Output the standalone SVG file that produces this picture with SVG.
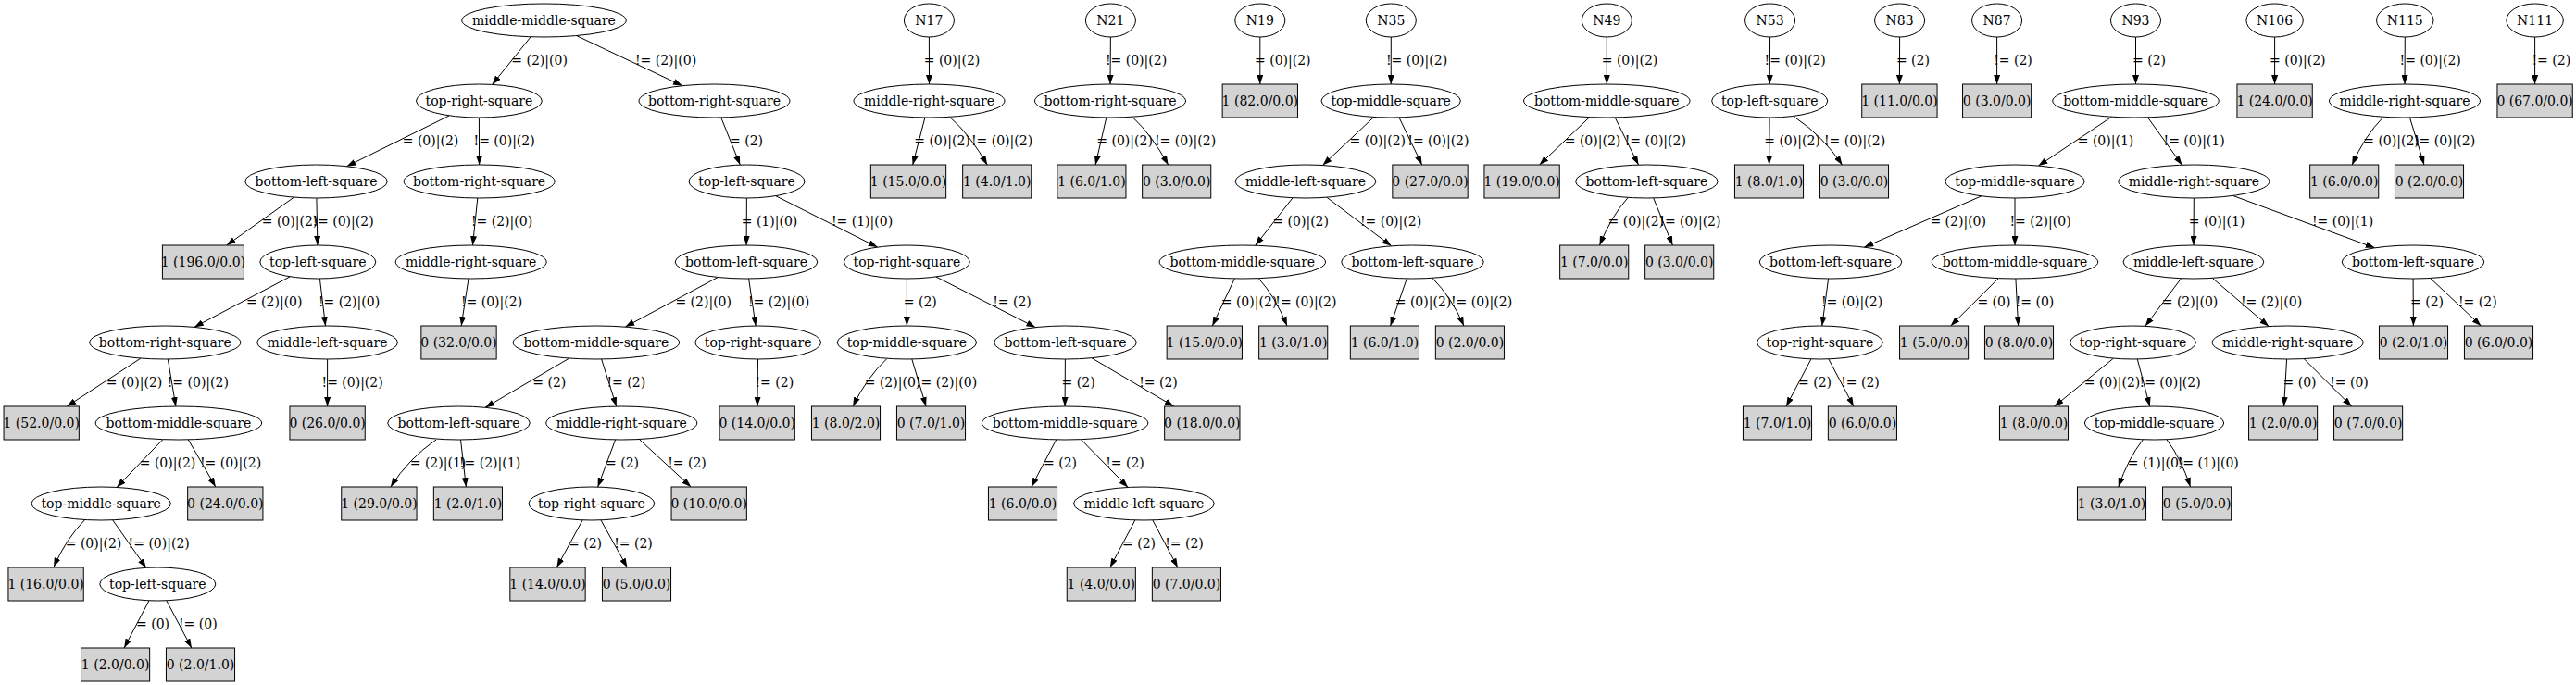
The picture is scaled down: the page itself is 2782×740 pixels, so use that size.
<svg xmlns="http://www.w3.org/2000/svg" width="2782" height="740" viewBox="0 0 2782 740">
<style>
text{font-family:"DejaVu Serif","Liberation Serif",serif;font-size:14px;text-anchor:middle;fill:#000}
.n ellipse{fill:#fff;stroke:#000;stroke-width:1}
.n rect{fill:#d3d3d3;stroke:#000;stroke-width:1}
.e path{fill:none;stroke:#000;stroke-width:1;marker-end:url(#arr)}
</style>
<defs>
<marker id="arr" markerUnits="userSpaceOnUse" markerWidth="10" markerHeight="7" refX="10" refY="3.5" orient="auto">
<path d="M0,0 L10,3.5 L0,7 Z" fill="#000"/>
</marker>
</defs>
<rect x="0" y="0" width="2782" height="740" fill="#fff"/>
<g id="edges" class="e">
<path d="M573.2,39.8 L531.6,91.4"/><text x="582.6" y="70">= (2)|(0)</text>
<path d="M622.5,38.5 L737,92.7"/><text x="719" y="70">!= (2)|(0)</text>
<path d="M485.3,124.9 L374.4,179.7"/><text x="465" y="157">= (0)|(2)</text>
<path d="M517.4,127 L517.6,178"/><text x="544.6" y="157">!= (0)|(2)</text>
<path d="M317.5,213.1 L244.7,265"/><text x="313" y="244">= (0)|(2)</text>
<path d="M341.9,214 L342.9,265"/><text x="370.5" y="244">!= (0)|(2)</text>
<path d="M515.8,214 L510.5,265"/><text x="542" y="244">!= (2)|(0)</text>
<path d="M313.3,298.8 L209.8,353.4"/><text x="296.2" y="331">= (2)|(0)</text>
<path d="M345.4,301 L351.5,352"/><text x="377" y="331">!= (2)|(0)</text>
<path d="M506,301 L498.2,352"/><text x="531" y="331">!= (0)|(2)</text>
<path d="M152.1,387 L72.3,439"/><text x="145" y="418">= (0)|(2)</text>
<path d="M181.3,388 L189.9,439"/><text x="213.8" y="418">!= (0)|(2)</text>
<path d="M353.6,388 L353.6,439"/><text x="380.6" y="418">!= (0)|(2)</text>
<path d="M175.9,474.7 L126.1,526.5"/><text x="181" y="505">= (0)|(2)</text>
<path d="M203.3,474.9 L232.9,526"/><text x="249" y="505">!= (0)|(2)</text>
<path d="M91.5,561.7 Q71.4,582 58,612.6"/><text x="101" y="592">= (0)|(2)</text>
<path d="M121.7,561.8 L157.9,613.4"/><text x="171.7" y="592">!= (0)|(2)</text>
<path d="M161,648.8 L134.1,700"/><text x="165" y="679">= (0)</text>
<path d="M179.8,648.8 L206.9,700"/><text x="213.8" y="679">!= (0)</text>
<path d="M778.7,126.9 L799.3,178.1"/><text x="806" y="157">= (2)</text>
<path d="M806.4,214 L806.1,265"/><text x="831" y="244">= (1)|(0)</text>
<path d="M837.6,211.6 L947.7,267.1"/><text x="931" y="244">!= (1)|(0)</text>
<path d="M775.3,299.5 L675.3,353.1"/><text x="759.7" y="331">= (2)|(0)</text>
<path d="M808.6,301 L816.1,352"/><text x="841" y="331">!= (2)|(0)</text>
<path d="M979.4,301 L979.4,352"/><text x="993.8" y="331">= (2)</text>
<path d="M1010.8,299 L1118.4,353.7"/><text x="1093" y="331">!= (2)</text>
<path d="M614.8,387 L524,440.3"/><text x="593.3" y="418">= (2)</text>
<path d="M649.6,388 L665.7,439.1"/><text x="676.3" y="418">!= (2)</text>
<path d="M818.5,388 L817.9,439"/><text x="836.3" y="418">!= (2)</text>
<path d="M957.7,387.7 Q935.7,408.2 921.1,439"/><text x="964" y="418">= (2)|(0)</text>
<path d="M984.8,388 L1000.1,439"/><text x="1022" y="418">!= (2)|(0)</text>
<path d="M1150.4,388 L1150.1,439"/><text x="1164.6" y="418">= (2)</text>
<path d="M1178.9,386.7 L1267.7,439"/><text x="1251" y="418">!= (2)</text>
<path d="M471,475 Q441.5,495.3 421.9,525.9"/><text x="473" y="505">= (2)|(1)</text>
<path d="M497.5,475 L503.4,526"/><text x="529" y="505">!= (2)|(1)</text>
<path d="M664.6,475 L645.6,526.1"/><text x="672" y="505">= (2)</text>
<path d="M690.3,474.5 L746.2,526"/><text x="742" y="505">!= (2)</text>
<path d="M629.2,561.8 L601.3,613"/><text x="632" y="592">= (2)</text>
<path d="M648.9,561.8 L677.4,613"/><text x="684" y="592">!= (2)</text>
<path d="M1140.7,474.9 L1113.9,526"/><text x="1145" y="505">= (2)</text>
<path d="M1167.4,474.7 L1218.2,526.5"/><text x="1215" y="505">!= (2)</text>
<path d="M1225.9,561.9 L1198.8,613"/><text x="1230" y="592">= (2)</text>
<path d="M1244.8,561.9 L1271.9,613"/><text x="1279" y="592">!= (2)</text>
<path d="M1003.4,40 L1003.5,91"/><text x="1028" y="70">= (0)|(2)</text>
<path d="M998.9,127 L985.7,178"/><text x="1017.5" y="157">= (0)|(2)</text>
<path d="M1026,126.7 Q1048,146 1066.2,178.2"/><text x="1082" y="157">!= (0)|(2)</text>
<path d="M1199.4,40 L1199,91"/><text x="1227" y="70">!= (0)|(2)</text>
<path d="M1194.8,127 L1183.1,178"/><text x="1214.6" y="157">= (0)|(2)</text>
<path d="M1223.3,126.7 Q1244,146 1261.7,178.2"/><text x="1280" y="157">!= (0)|(2)</text>
<path d="M1360.8,40 L1360.8,91"/><text x="1385.3" y="70">= (0)|(2)</text>
<path d="M1502.3,40 L1502.2,91"/><text x="1530" y="70">!= (0)|(2)</text>
<path d="M1483.7,126.5 L1428.5,178.5"/><text x="1487.8" y="157">= (0)|(2)</text>
<path d="M1511,127 L1535.7,178"/><text x="1553.4" y="157">!= (0)|(2)</text>
<path d="M1396.1,213.7 L1355.7,265.2"/><text x="1404.7" y="244">= (0)|(2)</text>
<path d="M1432.8,213.2 L1502.7,265.8"/><text x="1502" y="244">!= (0)|(2)</text>
<path d="M1333.3,301 L1309.3,352"/><text x="1349" y="331">= (0)|(2)</text>
<path d="M1358.8,300.2 Q1377.5,320.7 1390,352"/><text x="1410.4" y="331">!= (0)|(2)</text>
<path d="M1519.3,301 L1501.6,352"/><text x="1537" y="331">= (0)|(2)</text>
<path d="M1546.7,300.2 Q1567.3,320.7 1581,352"/><text x="1600" y="331">!= (0)|(2)</text>
<path d="M1735.3,40 L1735.3,91"/><text x="1760" y="70">= (0)|(2)</text>
<path d="M1716.7,126.6 L1662.6,178"/><text x="1720" y="157">= (0)|(2)</text>
<path d="M1744.2,127 L1769.5,178.1"/><text x="1787.8" y="157">!= (0)|(2)</text>
<path d="M1758.3,213.3 Q1739.8,234 1727.5,265"/><text x="1766.8" y="244">= (0)|(2)</text>
<path d="M1785.7,214 L1806.4,265"/><text x="1825.4" y="244">!= (0)|(2)</text>
<path d="M1911.6,40 L1911.2,91"/><text x="1938.7" y="70">!= (0)|(2)</text>
<path d="M1911.1,127 L1910.6,178"/><text x="1935.5" y="157">= (0)|(2)</text>
<path d="M1938.2,126.5 Q1969,147.3 1989.6,178.2"/><text x="2003" y="157">!= (0)|(2)</text>
<path d="M2051.6,40 L2051.4,91"/><text x="2065.9" y="70">= (2)</text>
<path d="M2156.6,40 L2156.6,91"/><text x="2174" y="70">!= (2)</text>
<path d="M2306.5,40 L2306.5,91"/><text x="2321" y="70">= (2)</text>
<path d="M2280.6,126.2 L2201.4,179.1"/><text x="2274" y="157">= (0)|(1)</text>
<path d="M2319.4,126.8 L2356.5,178.2"/><text x="2369.6" y="157">!= (0)|(1)</text>
<path d="M2139.9,211.8 L2013.3,267.1"/><text x="2114.7" y="244">= (2)|(0)</text>
<path d="M2176,214 L2176,265"/><text x="2203.5" y="244">!= (2)|(0)</text>
<path d="M2369.3,214 L2369,265"/><text x="2394" y="244">= (0)|(1)</text>
<path d="M2411.4,211.4 L2564.7,267.8"/><text x="2530" y="244">!= (0)|(1)</text>
<path d="M1974.6,301 L1967.8,352"/><text x="2000" y="331">!= (0)|(2)</text>
<path d="M1956,387.8 L1929,439"/><text x="1960" y="418">= (2)</text>
<path d="M1974.8,387.8 L2001.9,439"/><text x="2009" y="418">!= (2)</text>
<path d="M2158.3,300.6 L2106.7,352"/><text x="2153.4" y="331">= (0)</text>
<path d="M2176.9,301 L2179.6,352"/><text x="2197.5" y="331">!= (0)</text>
<path d="M2355.6,300.7 L2316.8,352.3"/><text x="2365" y="331">= (2)|(0)</text>
<path d="M2389.2,300.3 L2450.2,352.6"/><text x="2453" y="331">!= (2)|(0)</text>
<path d="M2606.1,301 L2606.4,352"/><text x="2621" y="331">= (2)</text>
<path d="M2624.6,300.5 L2679.4,352"/><text x="2675.8" y="331">!= (2)</text>
<path d="M2282.5,387.1 L2218.6,439"/><text x="2281" y="418">= (0)|(2)</text>
<path d="M2308.3,388 L2321.7,439"/><text x="2343.6" y="418">!= (0)|(2)</text>
<path d="M2469.6,388 L2466.6,439"/><text x="2483.5" y="418">= (0)</text>
<path d="M2488.2,387.6 L2539.6,439"/><text x="2537" y="418">!= (0)</text>
<path d="M2314.2,475 Q2298.4,495.3 2287.8,526"/><text x="2328" y="505">= (1)|(0)</text>
<path d="M2340.1,475 Q2355.4,495.3 2365.6,526"/><text x="2384.7" y="505">!= (1)|(0)</text>
<path d="M2456.6,40 L2456.6,91"/><text x="2481.3" y="70">= (0)|(2)</text>
<path d="M2597.3,40 L2597,91"/><text x="2624.7" y="70">!= (0)|(2)</text>
<path d="M2573.6,126.7 Q2553.5,147.3 2540.1,178.2"/><text x="2582.5" y="157">= (0)|(2)</text>
<path d="M2602.5,127 L2618,178"/><text x="2640" y="157">!= (0)|(2)</text>
<path d="M2737.6,40 L2737.6,91"/><text x="2755.3" y="70">!= (2)</text>
</g>
<g id="A" class="n"><ellipse cx="587.5" cy="22" rx="88.8" ry="18"/><text x="587.5" y="26.5">middle-middle-square</text></g>
<g id="B" class="n"><ellipse cx="517.4" cy="109" rx="67.9" ry="18"/><text x="517.4" y="113.5">top-right-square</text></g>
<g id="C" class="n"><ellipse cx="771.5" cy="109" rx="81.5" ry="18"/><text x="771.5" y="113.5">bottom-right-square</text></g>
<g id="D" class="n"><ellipse cx="341.5" cy="196" rx="76.8" ry="18"/><text x="341.5" y="200.5">bottom-left-square</text></g>
<g id="E" class="n"><ellipse cx="517.6" cy="196" rx="81.5" ry="18"/><text x="517.6" y="200.5">bottom-right-square</text></g>
<g id="F" class="n"><rect x="175.4" y="265" width="88" height="36"/><text x="219.4" y="287.5">1 (196.0/0.0)</text></g>
<g id="G" class="n"><ellipse cx="343.3" cy="283" rx="62.5" ry="18"/><text x="343.3" y="287.5">top-left-square</text></g>
<g id="H" class="n"><ellipse cx="508.7" cy="283" rx="81.5" ry="18"/><text x="508.7" y="287.5">middle-right-square</text></g>
<g id="I" class="n"><ellipse cx="178.3" cy="370" rx="81.5" ry="18"/><text x="178.3" y="374.5">bottom-right-square</text></g>
<g id="J" class="n"><ellipse cx="353.6" cy="370" rx="75.9" ry="18"/><text x="353.6" y="374.5">middle-left-square</text></g>
<g id="K" class="n"><rect x="454.85" y="352" width="81.3" height="36"/><text x="495.5" y="374.5">0 (32.0/0.0)</text></g>
<g id="L" class="n"><rect x="4.05" y="439" width="81.3" height="36"/><text x="44.7" y="461.5">1 (52.0/0.0)</text></g>
<g id="M" class="n"><ellipse cx="192.9" cy="457" rx="89.75" ry="18"/><text x="192.9" y="461.5">bottom-middle-square</text></g>
<g id="N" class="n"><rect x="312.95" y="439" width="81.3" height="36"/><text x="353.6" y="461.5">0 (26.0/0.0)</text></g>
<g id="O" class="n"><ellipse cx="109.2" cy="544" rx="75.2" ry="18"/><text x="109.2" y="548.5">top-middle-square</text></g>
<g id="P" class="n"><rect x="202.65" y="526" width="81.3" height="36"/><text x="243.3" y="548.5">0 (24.0/0.0)</text></g>
<g id="Q" class="n"><rect x="8.95" y="613" width="81.3" height="36"/><text x="49.6" y="635.5">1 (16.0/0.0)</text></g>
<g id="R" class="n"><ellipse cx="170.3" cy="631" rx="62.5" ry="18"/><text x="170.3" y="635.5">top-left-square</text></g>
<g id="S" class="n"><rect x="87.55" y="700" width="74.1" height="36"/><text x="124.6" y="722.5">1 (2.0/0.0)</text></g>
<g id="T" class="n"><rect x="179.45" y="700" width="74.1" height="36"/><text x="216.5" y="722.5">0 (2.0/1.0)</text></g>
<g id="U" class="n"><ellipse cx="806.5" cy="196" rx="62.5" ry="18"/><text x="806.5" y="200.5">top-left-square</text></g>
<g id="V" class="n"><ellipse cx="806" cy="283" rx="76.8" ry="18"/><text x="806" y="287.5">bottom-left-square</text></g>
<g id="W" class="n"><ellipse cx="979.4" cy="283" rx="67.9" ry="18"/><text x="979.4" y="287.5">top-right-square</text></g>
<g id="X" class="n"><ellipse cx="643.9" cy="370" rx="89.75" ry="18"/><text x="643.9" y="374.5">bottom-middle-square</text></g>
<g id="Y" class="n"><ellipse cx="818.7" cy="370" rx="67.9" ry="18"/><text x="818.7" y="374.5">top-right-square</text></g>
<g id="Z" class="n"><ellipse cx="979.4" cy="370" rx="75.2" ry="18"/><text x="979.4" y="374.5">top-middle-square</text></g>
<g id="AA" class="n"><ellipse cx="1150.5" cy="370" rx="76.8" ry="18"/><text x="1150.5" y="374.5">bottom-left-square</text></g>
<g id="AB" class="n"><ellipse cx="495.5" cy="457" rx="76.8" ry="18"/><text x="495.5" y="461.5">bottom-left-square</text></g>
<g id="AC" class="n"><ellipse cx="671.3" cy="457" rx="81.5" ry="18"/><text x="671.3" y="461.5">middle-right-square</text></g>
<g id="AD" class="n"><rect x="777.05" y="439" width="81.3" height="36"/><text x="817.7" y="461.5">0 (14.0/0.0)</text></g>
<g id="AE" class="n"><rect x="876.45" y="439" width="74.1" height="36"/><text x="913.5" y="461.5">1 (8.0/2.0)</text></g>
<g id="AF" class="n"><rect x="968.45" y="439" width="74.1" height="36"/><text x="1005.5" y="461.5">0 (7.0/1.0)</text></g>
<g id="AG" class="n"><ellipse cx="1150.1" cy="457" rx="89.75" ry="18"/><text x="1150.1" y="461.5">bottom-middle-square</text></g>
<g id="AH" class="n"><rect x="1257.65" y="439" width="81.3" height="36"/><text x="1298.3" y="461.5">0 (18.0/0.0)</text></g>
<g id="AI" class="n"><rect x="368.75" y="526" width="81.3" height="36"/><text x="409.4" y="548.5">1 (29.0/0.0)</text></g>
<g id="AJ" class="n"><rect x="468.35" y="526" width="74.1" height="36"/><text x="505.4" y="548.5">1 (2.0/1.0)</text></g>
<g id="AK" class="n"><ellipse cx="638.9" cy="544" rx="67.9" ry="18"/><text x="638.9" y="548.5">top-right-square</text></g>
<g id="AL" class="n"><rect x="725.05" y="526" width="81.3" height="36"/><text x="765.7" y="548.5">0 (10.0/0.0)</text></g>
<g id="AO" class="n"><rect x="1067.45" y="526" width="74.1" height="36"/><text x="1104.5" y="548.5">1 (6.0/0.0)</text></g>
<g id="AP" class="n"><ellipse cx="1235.4" cy="544" rx="75.9" ry="18"/><text x="1235.4" y="548.5">middle-left-square</text></g>
<g id="AM" class="n"><rect x="550.85" y="613" width="81.3" height="36"/><text x="591.5" y="635.5">1 (14.0/0.0)</text></g>
<g id="AN" class="n"><rect x="650.45" y="613" width="74.1" height="36"/><text x="687.5" y="635.5">0 (5.0/0.0)</text></g>
<g id="AQ" class="n"><rect x="1152.25" y="613" width="74.1" height="36"/><text x="1189.3" y="635.5">1 (4.0/0.0)</text></g>
<g id="AR" class="n"><rect x="1244.35" y="613" width="74.1" height="36"/><text x="1281.4" y="635.5">0 (7.0/0.0)</text></g>
<g id="N17" class="n"><ellipse cx="1003.4" cy="22" rx="27" ry="18"/><text x="1003.4" y="26.5">N17</text></g>
<g id="n17a" class="n"><ellipse cx="1003.5" cy="109" rx="81.5" ry="18"/><text x="1003.5" y="113.5">middle-right-square</text></g>
<g id="n17b" class="n"><rect x="940.35" y="178" width="81.3" height="36"/><text x="981" y="200.5">1 (15.0/0.0)</text></g>
<g id="n17c" class="n"><rect x="1039.65" y="178" width="74.1" height="36"/><text x="1076.7" y="200.5">1 (4.0/1.0)</text></g>
<g id="N21" class="n"><ellipse cx="1199.4" cy="22" rx="27" ry="18"/><text x="1199.4" y="26.5">N21</text></g>
<g id="n21a" class="n"><ellipse cx="1199" cy="109" rx="81.5" ry="18"/><text x="1199" y="113.5">bottom-right-square</text></g>
<g id="n21b" class="n"><rect x="1141.85" y="178" width="74.1" height="36"/><text x="1178.9" y="200.5">1 (6.0/1.0)</text></g>
<g id="n21c" class="n"><rect x="1233.65" y="178" width="74.1" height="36"/><text x="1270.7" y="200.5">0 (3.0/0.0)</text></g>
<g id="N19" class="n"><ellipse cx="1360.8" cy="22" rx="27" ry="18"/><text x="1360.8" y="26.5">N19</text></g>
<g id="n19a" class="n"><rect x="1320.15" y="91" width="81.3" height="36"/><text x="1360.8" y="113.5">1 (82.0/0.0)</text></g>
<g id="N35" class="n"><ellipse cx="1502.3" cy="22" rx="27" ry="18"/><text x="1502.3" y="26.5">N35</text></g>
<g id="n35a" class="n"><ellipse cx="1502.2" cy="109" rx="75.2" ry="18"/><text x="1502.2" y="113.5">top-middle-square</text></g>
<g id="n35b" class="n"><ellipse cx="1410" cy="196" rx="75.9" ry="18"/><text x="1410" y="200.5">middle-left-square</text></g>
<g id="n35c" class="n"><rect x="1503.85" y="178" width="81.3" height="36"/><text x="1544.5" y="200.5">0 (27.0/0.0)</text></g>
<g id="n35d" class="n"><ellipse cx="1341.8" cy="283" rx="89.75" ry="18"/><text x="1341.8" y="287.5">bottom-middle-square</text></g>
<g id="n35e" class="n"><ellipse cx="1525.5" cy="283" rx="76.8" ry="18"/><text x="1525.5" y="287.5">bottom-left-square</text></g>
<g id="n35f" class="n"><rect x="1260.15" y="352" width="81.3" height="36"/><text x="1300.8" y="374.5">1 (15.0/0.0)</text></g>
<g id="n35g" class="n"><rect x="1359.65" y="352" width="74.1" height="36"/><text x="1396.7" y="374.5">1 (3.0/1.0)</text></g>
<g id="n35h" class="n"><rect x="1458.35" y="352" width="74.1" height="36"/><text x="1495.4" y="374.5">1 (6.0/1.0)</text></g>
<g id="n35i" class="n"><rect x="1550.35" y="352" width="74.1" height="36"/><text x="1587.4" y="374.5">0 (2.0/0.0)</text></g>
<g id="N49" class="n"><ellipse cx="1735.3" cy="22" rx="27" ry="18"/><text x="1735.3" y="26.5">N49</text></g>
<g id="n49a" class="n"><ellipse cx="1735.3" cy="109" rx="89.75" ry="18"/><text x="1735.3" y="113.5">bottom-middle-square</text></g>
<g id="n49b" class="n"><rect x="1602.95" y="178" width="81.3" height="36"/><text x="1643.6" y="200.5">1 (19.0/0.0)</text></g>
<g id="n49c" class="n"><ellipse cx="1778.4" cy="196" rx="76.8" ry="18"/><text x="1778.4" y="200.5">bottom-left-square</text></g>
<g id="n49d" class="n"><rect x="1684.65" y="265" width="74.1" height="36"/><text x="1721.7" y="287.5">1 (7.0/0.0)</text></g>
<g id="n49e" class="n"><rect x="1776.65" y="265" width="74.1" height="36"/><text x="1813.7" y="287.5">0 (3.0/0.0)</text></g>
<g id="N53" class="n"><ellipse cx="1911.6" cy="22" rx="27" ry="18"/><text x="1911.6" y="26.5">N53</text></g>
<g id="n53a" class="n"><ellipse cx="1911.2" cy="109" rx="62.5" ry="18"/><text x="1911.2" y="113.5">top-left-square</text></g>
<g id="n53b" class="n"><rect x="1873.45" y="178" width="74.1" height="36"/><text x="1910.5" y="200.5">1 (8.0/1.0)</text></g>
<g id="n53c" class="n"><rect x="1965.45" y="178" width="74.1" height="36"/><text x="2002.5" y="200.5">0 (3.0/0.0)</text></g>
<g id="N83" class="n"><ellipse cx="2051.6" cy="22" rx="27" ry="18"/><text x="2051.6" y="26.5">N83</text></g>
<g id="n83a" class="n"><rect x="2010.75" y="91" width="81.3" height="36"/><text x="2051.4" y="113.5">1 (11.0/0.0)</text></g>
<g id="N87" class="n"><ellipse cx="2156.6" cy="22" rx="27" ry="18"/><text x="2156.6" y="26.5">N87</text></g>
<g id="n87a" class="n"><rect x="2119.55" y="91" width="74.1" height="36"/><text x="2156.6" y="113.5">0 (3.0/0.0)</text></g>
<g id="N93" class="n"><ellipse cx="2306.5" cy="22" rx="27" ry="18"/><text x="2306.5" y="26.5">N93</text></g>
<g id="n93a" class="n"><ellipse cx="2306.5" cy="109" rx="89.75" ry="18"/><text x="2306.5" y="113.5">bottom-middle-square</text></g>
<g id="n93b" class="n"><ellipse cx="2176" cy="196" rx="75.2" ry="18"/><text x="2176" y="200.5">top-middle-square</text></g>
<g id="n93c" class="n"><ellipse cx="2369.4" cy="196" rx="81.5" ry="18"/><text x="2369.4" y="200.5">middle-right-square</text></g>
<g id="n93d" class="n"><ellipse cx="1977" cy="283" rx="76.8" ry="18"/><text x="1977" y="287.5">bottom-left-square</text></g>
<g id="n93e" class="n"><ellipse cx="2176" cy="283" rx="89.75" ry="18"/><text x="2176" y="287.5">bottom-middle-square</text></g>
<g id="n93f" class="n"><ellipse cx="2368.9" cy="283" rx="75.9" ry="18"/><text x="2368.9" y="287.5">middle-left-square</text></g>
<g id="n93g" class="n"><ellipse cx="2606" cy="283" rx="76.8" ry="18"/><text x="2606" y="287.5">bottom-left-square</text></g>
<g id="n93h" class="n"><ellipse cx="1965.4" cy="370" rx="67.9" ry="18"/><text x="1965.4" y="374.5">top-right-square</text></g>
<g id="n93i" class="n"><rect x="2051.55" y="352" width="74.1" height="36"/><text x="2088.6" y="374.5">1 (5.0/0.0)</text></g>
<g id="n93j" class="n"><rect x="2143.45" y="352" width="74.1" height="36"/><text x="2180.5" y="374.5">0 (8.0/0.0)</text></g>
<g id="n93k" class="n"><ellipse cx="2303.5" cy="370" rx="67.9" ry="18"/><text x="2303.5" y="374.5">top-right-square</text></g>
<g id="n93l" class="n"><ellipse cx="2470.6" cy="370" rx="81.5" ry="18"/><text x="2470.6" y="374.5">middle-right-square</text></g>
<g id="n93m" class="n"><rect x="2569.45" y="352" width="74.1" height="36"/><text x="2606.5" y="374.5">0 (2.0/1.0)</text></g>
<g id="n93n" class="n"><rect x="2661.45" y="352" width="74.1" height="36"/><text x="2698.5" y="374.5">0 (6.0/0.0)</text></g>
<g id="n93o" class="n"><rect x="1882.45" y="439" width="74.1" height="36"/><text x="1919.5" y="461.5">1 (7.0/1.0)</text></g>
<g id="n93p" class="n"><rect x="1974.35" y="439" width="74.1" height="36"/><text x="2011.4" y="461.5">0 (6.0/0.0)</text></g>
<g id="n93q" class="n"><rect x="2159.45" y="439" width="74.1" height="36"/><text x="2196.5" y="461.5">1 (8.0/0.0)</text></g>
<g id="n93r" class="n"><ellipse cx="2326.5" cy="457" rx="75.2" ry="18"/><text x="2326.5" y="461.5">top-middle-square</text></g>
<g id="n93s" class="n"><rect x="2428.55" y="439" width="74.1" height="36"/><text x="2465.6" y="461.5">1 (2.0/0.0)</text></g>
<g id="n93t" class="n"><rect x="2520.55" y="439" width="74.1" height="36"/><text x="2557.6" y="461.5">0 (7.0/0.0)</text></g>
<g id="n93u" class="n"><rect x="2243.45" y="526" width="74.1" height="36"/><text x="2280.5" y="548.5">1 (3.0/1.0)</text></g>
<g id="n93v" class="n"><rect x="2335.55" y="526" width="74.1" height="36"/><text x="2372.6" y="548.5">0 (5.0/0.0)</text></g>
<g id="N106" class="n"><ellipse cx="2456.6" cy="22" rx="30.7" ry="18"/><text x="2456.6" y="26.5">N106</text></g>
<g id="n106a" class="n"><rect x="2415.95" y="91" width="81.3" height="36"/><text x="2456.6" y="113.5">1 (24.0/0.0)</text></g>
<g id="N115" class="n"><ellipse cx="2597.3" cy="22" rx="30.7" ry="18"/><text x="2597.3" y="26.5">N115</text></g>
<g id="n115a" class="n"><ellipse cx="2597" cy="109" rx="81.5" ry="18"/><text x="2597" y="113.5">middle-right-square</text></g>
<g id="n115b" class="n"><rect x="2494.65" y="178" width="74.1" height="36"/><text x="2531.7" y="200.5">1 (6.0/0.0)</text></g>
<g id="n115c" class="n"><rect x="2586.45" y="178" width="74.1" height="36"/><text x="2623.5" y="200.5">0 (2.0/0.0)</text></g>
<g id="N111" class="n"><ellipse cx="2737.6" cy="22" rx="30.7" ry="18"/><text x="2737.6" y="26.5">N111</text></g>
<g id="n111a" class="n"><rect x="2696.95" y="91" width="81.3" height="36"/><text x="2737.6" y="113.5">0 (67.0/0.0)</text></g>
</svg>
